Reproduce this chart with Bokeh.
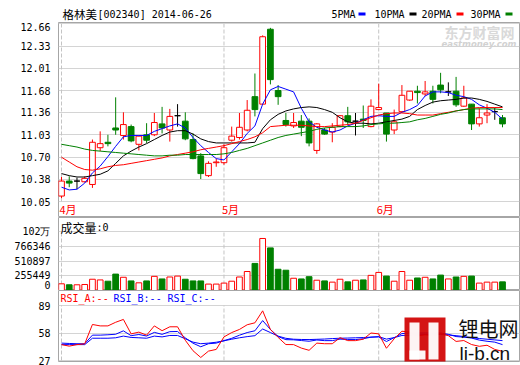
from bokeh.plotting import figure
from bokeh.layouts import column
from bokeh.models import (ColumnDataSource, Range1d, FixedTicker, PrintfTickFormatter,
                          Label, BoxAnnotation)
from bokeh.embed import file_html
from bokeh.resources import INLINE

# ---------------- data ----------------
stock_name = "格林美"
stock_code_date = "[002340] 2014-06-26"
month_labels = ["4月", "5月", "6月"]
month_start_idx = [0, 21, 41]

opens = [10.13, 10.35, 10.35, 10.34, 10.30, 10.84, 10.92, 11.13, 11.02, 11.15,
         10.89, 11.03, 11.03, 11.19, 11.10, 11.31, 11.23, 10.96, 10.72, 10.43,
         10.62, 10.62, 10.95, 10.99, 11.10, 11.59, 11.48, 12.58, 11.68, 11.24,
         11.16, 11.23, 11.23, 10.80, 11.10, 11.07, 11.15, 11.31, 11.23, 11.26,
         11.15, 11.40, 11.35, 11.10, 11.37, 11.54, 11.67, 11.63, 11.67, 11.76,
         11.66, 11.67, 11.45, 11.48, 11.19, 11.32, 11.37, 11.28]
highs = [10.41, 10.42, 10.40, 10.42, 10.96, 11.08, 11.03, 11.58, 11.36, 11.18,
         11.02, 11.20, 11.35, 11.44, 11.41, 11.48, 11.36, 11.05, 10.76, 10.64,
         10.68, 10.89, 11.15, 11.35, 11.54, 11.93, 12.49, 12.60, 11.76, 11.35,
         11.35, 11.32, 11.27, 11.20, 11.13, 11.20, 11.32, 11.44, 11.35, 11.46,
         11.55, 11.78, 11.35, 11.40, 11.76, 11.67, 11.75, 11.82, 11.75, 11.94,
         11.80, 11.88, 11.75, 11.48, 11.42, 11.48, 11.43, 11.32]
lows = [10.10, 10.26, 10.23, 10.33, 10.25, 10.79, 10.86, 11.03, 10.96, 10.92,
        10.80, 10.91, 11.01, 11.05, 10.93, 11.15, 10.95, 10.67, 10.38, 10.41,
        10.56, 10.59, 10.93, 10.96, 11.08, 11.30, 11.47, 11.77, 11.47, 11.15,
        11.13, 11.01, 10.86, 10.75, 11.03, 10.92, 11.14, 11.17, 11.02, 11.13,
        11.14, 11.40, 10.93, 11.04, 11.37, 11.53, 11.49, 11.60, 11.49, 11.64,
        11.60, 11.44, 11.44, 11.10, 11.15, 11.20, 11.25, 11.14]
closes = [10.35, 10.32, 10.35, 10.39, 10.92, 10.90, 10.90, 11.10, 11.18, 10.94,
          11.01, 10.95, 11.21, 11.13, 11.30, 11.31, 10.97, 10.68, 10.46, 10.61,
          10.63, 10.84, 11.01, 11.14, 11.39, 11.40, 12.47, 11.84, 11.59, 11.18,
          11.21, 11.14, 10.91, 11.19, 11.04, 11.14, 11.31, 11.22, 11.23, 11.24,
          11.45, 11.43, 11.04, 11.22, 11.61, 11.67, 11.65, 11.66, 11.55, 11.69,
          11.66, 11.47, 11.57, 11.19, 11.28, 11.35, 11.37, 11.19]
volumes = [116000, 99000, 99000, 104000, 195000, 183000, 161000, 284000, 229000, 166000,
           133000, 166000, 245000, 200000, 234000, 250000, 195000, 166000, 166000, 111000,
           111000, 128000, 161000, 234000, 329000, 469000, 901000, 738000, 368000, 351000,
           212000, 200000, 239000, 178000, 166000, 145000, 195000, 150000, 178000, 183000,
           262000, 313000, 250000, 161000, 329000, 178000, 217000, 229000, 200000, 267000,
           200000, 234000, 245000, 250000, 128000, 145000, 145000, 150000]

ma5 = [10.26, 10.22, 10.23, 10.32, 10.47, 10.57, 10.71, 10.86, 11.00, 11.02,
       11.02, 11.02, 11.08, 11.12, 11.16, 11.19, 11.13, 10.99, 10.87, 10.77,
       10.68, 10.66, 10.78, 10.90, 11.05, 11.16, 11.48, 11.69, 11.74, 11.70,
       11.66, 11.42, 11.22, 11.14, 11.10, 11.07, 11.10, 11.16, 11.20, 11.25,
       11.30, 11.31, 11.30, 11.30, 11.36, 11.40, 11.46, 11.60, 11.66, 11.66,
       11.65, 11.61, 11.59, 11.55, 11.47, 11.42, 11.36, 11.26]
ma10 = [10.46, 10.43, 10.41, 10.41, 10.43, 10.45, 10.50, 10.61, 10.72, 10.79,
        10.85, 10.90, 10.96, 11.02, 11.07, 11.09, 11.09, 11.04, 10.97, 10.93,
        10.91, 10.91, 10.91, 10.91, 10.91, 10.92, 11.12, 11.25, 11.33, 11.38,
        11.41, 11.43, 11.44, 11.43, 11.40, 11.36, 11.28, 11.22, 11.20, 11.20,
        11.19, 11.20, 11.22, 11.24, 11.26, 11.30, 11.40, 11.46, 11.51, 11.53,
        11.54, 11.55, 11.57, 11.57, 11.55, 11.52, 11.48, 11.44]
ma20 = [10.70, 10.63, 10.56, 10.52, 10.51, 10.53, 10.56, 10.58, 10.59, 10.61,
        10.63, 10.65, 10.67, 10.69, 10.72, 10.74, 10.76, 10.78, 10.81, 10.83,
        10.85, 10.87, 10.90, 10.93, 10.96, 11.00, 11.06, 11.15, 11.16, 11.17,
        11.17, 11.17, 11.16, 11.15, 11.15, 11.16, 11.17, 11.18, 11.20, 11.24,
        11.28, 11.32, 11.34, 11.35, 11.35, 11.34, 11.32, 11.32, 11.32, 11.34,
        11.36, 11.38, 11.40, 11.42, 11.43, 11.43, 11.43, 11.43]
ma30 = [10.89, 10.87, 10.85, 10.82, 10.80, 10.79, 10.78, 10.77, 10.76, 10.75,
        10.74, 10.73, 10.72, 10.72, 10.73, 10.73, 10.74, 10.74, 10.74, 10.74,
        10.74, 10.75, 10.77, 10.80, 10.83, 10.87, 10.91, 10.95, 10.99, 11.02,
        11.04, 11.06, 11.08, 11.11, 11.13, 11.14, 11.15, 11.15, 11.15, 11.16,
        11.18, 11.19, 11.20, 11.20, 11.21, 11.22, 11.25, 11.27, 11.30, 11.33,
        11.35, 11.38, 11.40, 11.41, 11.41, 11.41, 11.41, 11.40]

rsi_a = [44.9, 43.2, 44.9, 45.8, 67.6, 66.0, 66.0, 70.1, 73.3, 57.0,
         59.0, 55.6, 66.0, 60.6, 65.0, 65.0, 49.8, 38.0, 30.4, 37.6,
         39.5, 53.6, 58.5, 62.0, 67.3, 69.5, 83.0, 62.0, 53.0, 45.0,
         44.9, 41.0, 38.5, 46.6, 45.9, 45.9, 52.8, 49.4, 49.4, 51.0,
         58.0, 57.0, 40.8, 51.5, 60.0, 59.0, 54.6, 56.0, 55.0, 57.5,
         55.0, 48.5, 49.5, 45.0, 43.0, 44.2, 39.5, 37.3]
rsi_b = [46.6, 46.2, 45.9, 45.9, 55.6, 55.6, 56.0, 56.6, 60.4, 55.0,
         56.3, 54.6, 58.7, 56.5, 59.5, 59.7, 52.5, 46.5, 42.5, 45.9,
         46.6, 49.4, 52.0, 55.5, 58.5, 60.5, 72.0, 62.0, 54.0, 50.5,
         50.3, 49.5, 48.7, 50.1, 49.4, 49.4, 51.1, 50.6, 50.6, 51.5,
         53.3, 53.6, 48.4, 52.8, 57.3, 58.0, 58.0, 58.0, 58.0, 58.0,
         56.5, 54.0, 53.3, 52.3, 50.0, 48.7, 47.7, 44.9]
rsi_c = [44.9, 44.9, 44.9, 44.9, 52.1, 52.1, 52.1, 52.6, 54.5, 53.0,
         52.6, 52.1, 54.5, 53.6, 55.2, 55.2, 51.5, 47.7, 45.9, 46.6,
         47.6, 49.2, 51.0, 52.6, 53.9, 55.0, 62.5, 58.5, 54.5, 52.0,
         51.0, 50.7, 50.6, 50.9, 51.2, 51.7, 52.1, 52.3, 52.6, 52.9,
         53.3, 53.9, 51.1, 52.8, 55.2, 55.6, 56.0, 56.3, 56.3, 56.3,
         55.8, 55.0, 54.0, 52.7, 51.8, 51.0, 50.2, 49.4]

price_ticks = [10.05, 10.38, 10.70, 11.03, 11.36, 11.68, 12.01, 12.33, 12.66]
volume_ticks = [0, 255449, 510897, 766346, 1021795]
volume_tick_labels = ["0", "255449", "510897", "766346", "102万"]
rsi_ticks = [27, 58, 89]
ma_names = ["5PMA", "10PMA", "20PMA", "30PMA"]
rsi_names = ["RSI_A:--", "RSI_B:--", "RSI_C:--"]

# ---------------- layout / style ----------------
W = 520
LB = 58
RB = 1
FW = W - LB - RB          # 461
H_TITLE = 22
FH_MAIN = 195
FH_VOL = 73
H_RSI = 75
RSI_BOTTOM = 4
FH_RSI = H_RSI - RSI_BOTTOM


def sx(page_x):
    return page_x - LB


GRID = "#d4d4d4"
BORDER = "#a6a6a6"
DASHC = "#c4c4c4"
RED = "#ff0000"
GREEN = "#008000"
BLUE = "#0000ff"
MONO = "DejaVu Sans Mono"
CJK = "Noto Sans CJK SC"

n = len(closes)
xs = list(range(n))
step = (FW - 3 - 17) / (n - 1)
xr = Range1d(-3 / step, (n - 1) + 17 / step)
BW = 0.74


def base_fig(h, xrange, yrange, bottom=0, yaxis=True):
    p = figure(width=W, height=h, x_range=xrange, y_range=yrange, title=None,
               output_backend="svg", toolbar_location=None, tools="",
               x_axis_location=None, y_axis_location=("left" if yaxis else None),
               min_border_left=LB, min_border_right=RB,
               min_border_top=0, min_border_bottom=bottom)
    p.background_fill_color = "white"
    p.border_fill_color = "white"
    return p


def make_fig(frame_h, yr, ticks, bottom=0):
    p = base_fig(frame_h + bottom, xr, yr, bottom=bottom)
    p.xgrid.visible = False
    p.ygrid.ticker = FixedTicker(ticks=ticks)
    p.ygrid.grid_line_color = GRID
    p.outline_line_color = BORDER
    p.yaxis.ticker = FixedTicker(ticks=ticks)
    p.yaxis.axis_line_color = None
    p.yaxis.major_tick_line_color = None
    p.yaxis.minor_tick_line_color = None
    p.yaxis.major_label_standoff = 2
    p.yaxis.major_label_text_font = MONO
    p.yaxis.major_label_text_font_size = "10px"
    p.yaxis.major_label_text_color = "black"
    return p


def lab(p, x, y, text, font=MONO, size="10px", color="black", style="normal",
        x_units="screen", y_units="screen", x_offset=0, baseline="middle"):
    p.add_layout(Label(x=x, y=y, x_units=x_units, y_units=y_units, text=text,
                       text_font=font, text_font_size=size, text_color=color,
                       text_font_style=style, text_baseline=baseline,
                       text_align="left", x_offset=x_offset))


def box(p, l, r, b, t, col, alpha=1.0):
    p.add_layout(BoxAnnotation(left=l, right=r, bottom=b, top=t, left_units="screen",
                               right_units="screen", bottom_units="screen", top_units="screen",
                               fill_color=col, fill_alpha=alpha, line_color=None))


# ---------------- title row (frame aligned with the panels below) ----------------
p0 = base_fig(H_TITLE, Range1d(0, FW), Range1d(0, H_TITLE), yaxis=False)
p0.grid.visible = False
p0.outline_line_color = None
TY = H_TITLE - 13.5
lab(p0, sx(62), TY, stock_name, font=CJK, size="11.5px")
lab(p0, sx(97), TY, stock_code_date)
legend_text_x = [331, 374, 421, 470]
legend_dash_x = [358, 409, 456, 505]
ma_colors = [BLUE, "black", RED, GREEN]
for name, tx in zip(ma_names, legend_text_x):
    lab(p0, sx(tx), TY, name)
p0.quad(left=[sx(d) for d in legend_dash_x], right=[sx(d) + 7 for d in legend_dash_x],
        bottom=TY - 1.4, top=TY + 1.4, fill_color=ma_colors, line_color=None)

# ---------------- main price panel ----------------
band = 16
toppad = 1.3
ppu = (FH_MAIN - band - toppad) / (price_ticks[-1] - price_ticks[0])
yr_main = Range1d(price_ticks[0] - band / ppu, price_ticks[-1] + toppad / ppu)
p1 = make_fig(FH_MAIN, yr_main, price_ticks)
p1.yaxis.formatter = PrintfTickFormatter(format="%.2f")

p1.segment(x0=month_start_idx, y0=price_ticks[0], x1=month_start_idx, y1=price_ticks[-1],
           line_color=DASHC, line_dash="4 2", line_width=1)

kind_color = []
kind_fill = []
for o, c in zip(opens, closes):
    if c > o:
        kind_color.append(RED); kind_fill.append("white")
    elif c < o:
        kind_color.append(GREEN); kind_fill.append(GREEN)
    else:
        kind_color.append("black"); kind_fill.append("black")

src = ColumnDataSource(dict(
    x=xs, high=highs, low=lows,
    top=[max(o, c) for o, c in zip(opens, closes)],
    bottom=[min(o, c) for o, c in zip(opens, closes)],
    color=kind_color, fill=kind_fill,
    vol=volumes,
    vcolor=[RED if c >= o else GREEN for o, c in zip(opens, closes)],
    vfill=["white" if c >= o else GREEN for o, c in zip(opens, closes)],
))
p1.segment(x0="x", y0="low", x1="x", y1="high", line_color="color", line_width=1, source=src)
p1.vbar(x="x", width=BW, top="top", bottom="bottom", fill_color="fill",
        line_color="color", line_width=1, source=src)

for vals, col in zip([ma5, ma10, ma20, ma30], ma_colors):
    p1.line(xs, vals, line_color=col, line_width=1)

# watermark
lab(p1, sx(444), FH_MAIN - 9, "东方财富网", font=CJK, size="14px", color="#d9d9d9", style="bold")
lab(p1, sx(441), FH_MAIN - 21, "eastmoney.com", font="DejaVu Sans", size="8.5px",
    color="#d2d2d2", style="bold italic")

# month labels
for idx, m in zip(month_start_idx, month_labels):
    lab(p1, idx, 8.5, m, font=CJK, size="11px", color=RED, x_units="data", x_offset=-2)

# ---------------- volume panel ----------------
vol_top = volume_ticks[-1] * FH_VOL / (FH_VOL - 14)
p2 = make_fig(FH_VOL, Range1d(0, vol_top), volume_ticks)
p2.yaxis.major_label_overrides = {t: s for t, s in zip(volume_ticks, volume_tick_labels)}
p2.segment(x0=month_start_idx, y0=0, x1=month_start_idx, y1=volume_ticks[-1],
           line_color=DASHC, line_dash="4 2", line_width=1)
p2.vbar(x="x", width=BW, top="vol", bottom=0, fill_color="vfill", line_color="vcolor",
        line_width=1, source=src)
lab(p2, 2, FH_VOL - 9.5, "成交量", font=CJK, size="12px")
lab(p2, 38, FH_VOL - 9.5, ":0")

# ---------------- RSI panel ----------------
rpu = (FH_RSI - 15 - 1) / (rsi_ticks[-1] - rsi_ticks[0])
rsi_end = rsi_ticks[-1] + 15 / rpu
p3 = make_fig(FH_RSI, Range1d(rsi_end - FH_RSI / rpu, rsi_end), rsi_ticks, bottom=RSI_BOTTOM)
p3.segment(x0=month_start_idx, y0=rsi_ticks[0], x1=month_start_idx, y1=rsi_ticks[-1],
           line_color=DASHC, line_dash="4 2", line_width=1)
p3.line(xs, rsi_c, line_color=BLUE, line_width=1)
p3.line(xs, rsi_b, line_color=BLUE, line_width=1)
p3.line(xs, rsi_a, line_color=RED, line_width=1)
for name, rx, col in zip(rsi_names, [60, 113, 167], [RED, BLUE, BLUE]):
    lab(p3, sx(rx), FH_RSI - 8, name, color=col)

# li-b.cn logo
box(p3, sx(404), sx(445), -6, FH_RSI - 27, "#d00000", 0.92)
box(p3, sx(409), sx(419), 2, FH_RSI - 32, "white", 0.95)
box(p3, sx(409), sx(425), 2, 11, "white", 0.95)
box(p3, sx(428), sx(438), 2, FH_RSI - 32, "white", 0.95)
lab(p3, sx(458), FH_RSI - 37.5, "锂电网", font=CJK, size="20px", color="#111111")
lab(p3, sx(459), 8, "li-b.cn", font="Liberation Sans", size="19px", color="#111111",
    baseline="alphabetic")

layout = column(p0, p1, p2, p3, spacing=0)
open("out.html", "w").write(file_html(layout, INLINE))
